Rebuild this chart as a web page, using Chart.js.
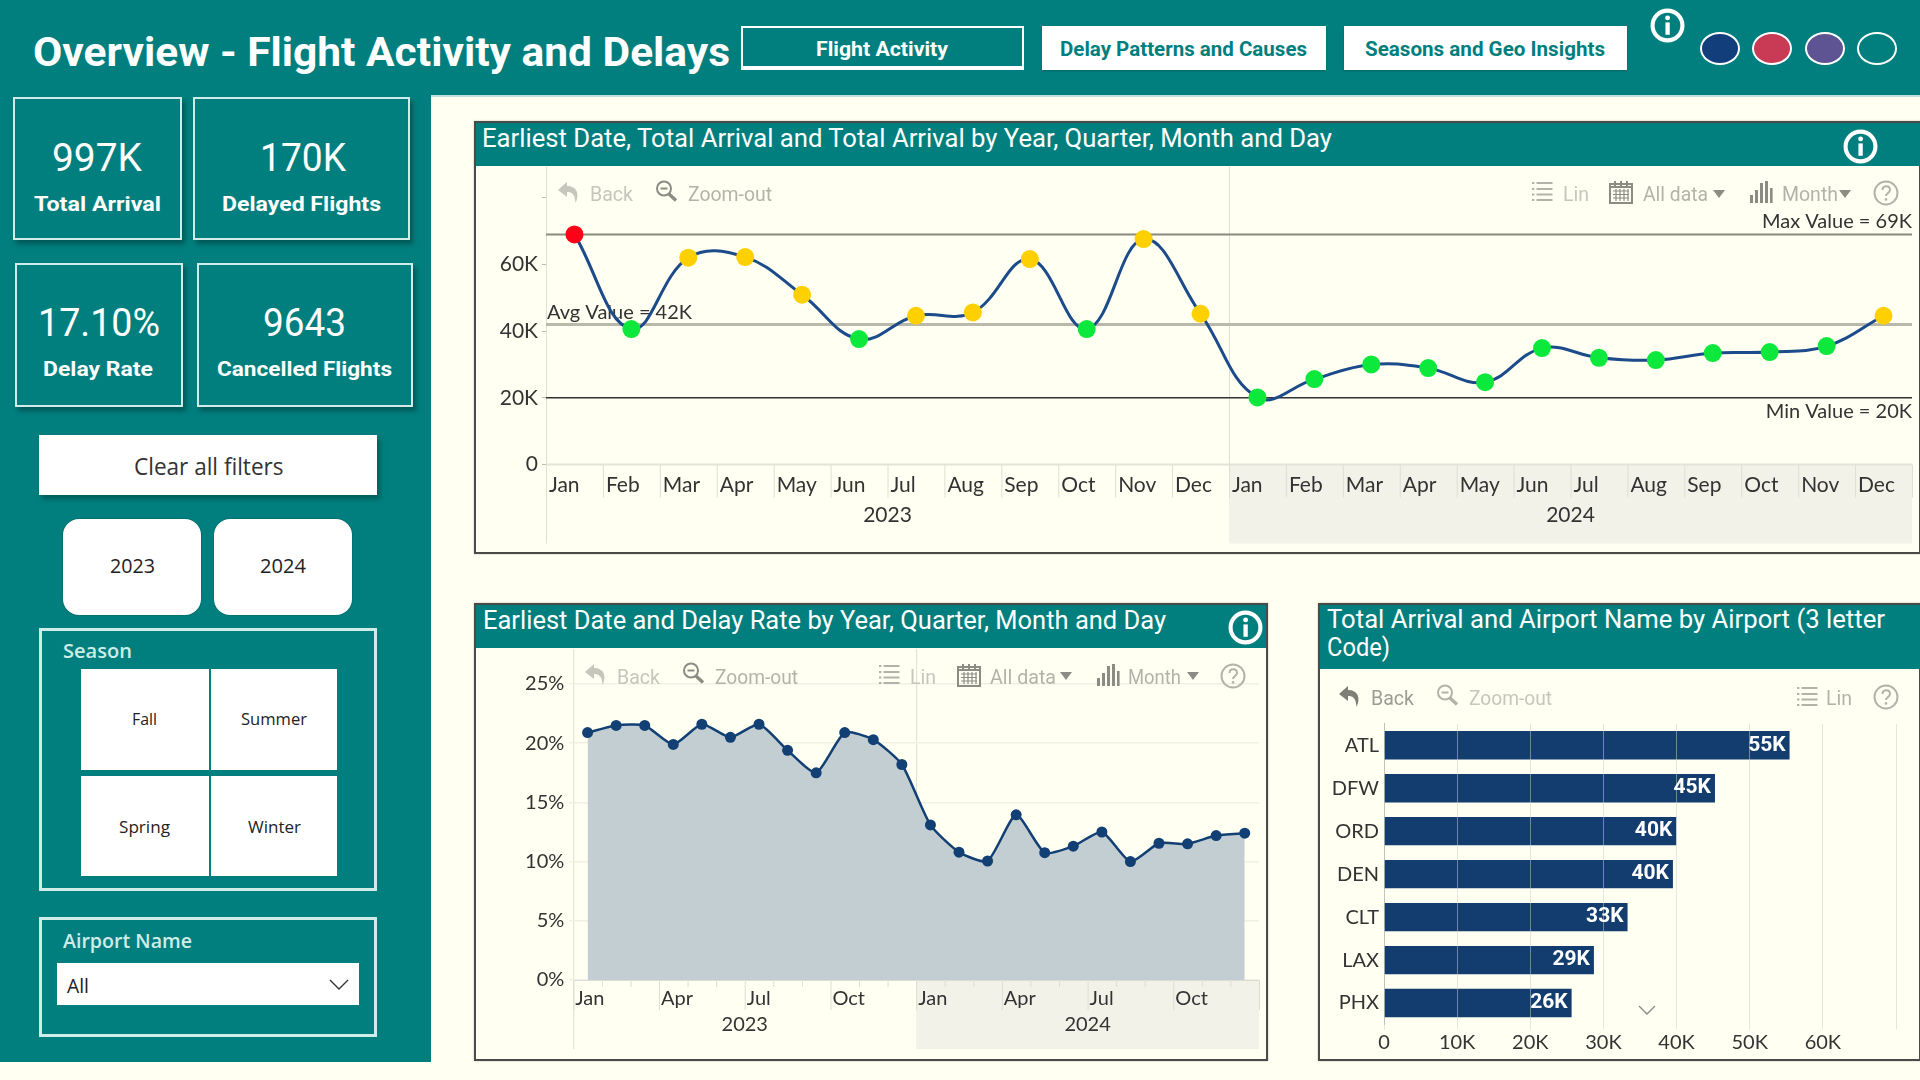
<!DOCTYPE html>
<html><head><meta charset="utf-8">
<style>
html,body{margin:0;padding:0;width:1920px;height:1080px;overflow:hidden;background:#FFFFF2}
.b{position:absolute;box-sizing:border-box}
.t{position:absolute;white-space:nowrap;line-height:1;transform-origin:left center}
canvas{position:absolute;display:block}
svg{position:absolute;overflow:visible}
</style>
<script src="https://cdn.jsdelivr.net/npm/chart.js@4/dist/chart.umd.min.js"></script>
</head><body>
<script>
// ---- data ----
const monthNames = ['Jan','Feb','Mar','Apr','May','Jun','Jul','Aug','Sep','Oct','Nov','Dec'];
const months = monthNames.concat(monthNames);
const years = ['2023','2024'];
const totalArrival = [69.0,40.6,62.0,62.2,50.9,37.6,44.6,45.6,61.6,40.6,67.6,45.2,
                      20.1,25.6,30.0,28.9,24.7,34.9,32.0,31.3,33.4,33.7,35.5,44.6];
const arrivalRefValues = [69,42,20];
const arrivalRefLabels = ['Max Value = 69K','Avg Value = 42K','Min Value = 20K'];
const arrivalTicks = [0,20,40,60,80];
const delayRate = [20.9,21.5,21.5,19.9,21.6,20.5,21.6,19.4,17.5,20.9,20.3,18.2,
                   13.1,10.8,10.05,13.95,10.75,11.3,12.5,10.0,11.55,11.5,12.2,12.4];
const airports = ['ATL','DFW','ORD','DEN','CLT','LAX','PHX'];
const airportArrivals = [55.45,45.25,39.96,39.5,33.3,28.7,25.65];

// ---- page helpers ----
const TEAL='#017F7E', EDGE='#CFECE8', TICKF="'Lato',sans-serif";
function B(x1,y1,x2,y2,css){const d=document.createElement('div');d.className='b';
  d.style.cssText=`left:${x1}px;top:${y1}px;width:${x2-x1}px;height:${y2-y1}px;`+(css||'');document.body.appendChild(d);return d;}
function T(s,x1,x2,cy,size,css){const e=document.createElement('span');e.className='t';e.textContent=s;
  e.style.cssText=`left:${x1}px;top:${cy}px;font-size:${size}px;`+(css||'');document.body.appendChild(e);
  const k=(x2-x1)/e.getBoundingClientRect().width;
  e.style.transform=`translateY(-50%) scaleX(${k})`;return e;}
function S(inner,size){document.body.insertAdjacentHTML('beforeend',inner);}
function info(cx,cy,w,h){S(`<svg style="left:${cx-w/2}px;top:${cy-h/2}px" width="${w}" height="${h}" viewBox="0 0 34 34">
 <circle cx="17" cy="17" r="14.5" fill="none" stroke="#fff" stroke-width="4"/><rect x="15" y="14" width="4.2" height="12" fill="#fff"/><circle cx="17.1" cy="9.6" r="2.4" fill="#fff"/></svg>`);}
function backI(cx,cy,c){S(`<svg style="left:${cx-12}px;top:${cy-12}px" width="24" height="24" viewBox="0 0 24 24"><path d="M10 2 L1 10 L10 17 L10 12 C15 12 18 14 18.5 23 C23 14 20 6 10 6 Z" fill="${c}"/></svg>`);}
function magI(cx,cy,c){S(`<svg style="left:${cx-12}px;top:${cy-12}px" width="24" height="24" viewBox="0 0 24 24" fill="none" stroke="${c}"><circle cx="10" cy="9.5" r="7" stroke-width="2"/><path d="M6.5 9.5h7" stroke-width="2"/><path d="M15 15l7 6.5" stroke-width="3.4"/></svg>`);}
function listI(cx,cy,c){S(`<svg style="left:${cx-11}px;top:${cy-11}px" width="22" height="22" viewBox="0 0 22 22" stroke="${c}" stroke-width="2" fill="none"><path d="M5.5 3h16M5.5 9h16M5.5 14.5h16M5.5 20h16M1 3h2.4M1 9h2.4M1 14.5h2.4M1 20h2.4"/></svg>`);}
function calI(cx,cy,c){S(`<svg style="left:${cx-13}px;top:${cy-13}px" width="26" height="26" viewBox="0 0 26 26" stroke="${c}" fill="none"><rect x="2" y="5" width="22" height="19" stroke-width="2"/><path d="M2 8h22M7 2v6M13 2v6M19 2v6" stroke-width="2"/><path d="M5 12h16M5 15.5h16M5 19h16M8 10v12M12 10v12M16 10v12M20 10v12" stroke-width="1.2"/></svg>`);}
function barsI(cx,cy,c){S(`<svg style="left:${cx-12}px;top:${cy-12}px" width="24" height="24" viewBox="0 0 24 24" fill="${c}"><rect x="1" y="15" width="3" height="8"/><rect x="6" y="10" width="3" height="13"/><rect x="11" y="3" width="3" height="20"/><rect x="16" y="1" width="3" height="22"/><rect x="21" y="8" width="2.6" height="15"/></svg>`);}
function helpI(cx,cy,c){S(`<svg style="left:${cx-13}px;top:${cy-13}px" width="26" height="26" viewBox="0 0 26 26"><ellipse cx="13" cy="13" rx="11.5" ry="11.5" fill="none" stroke="${c}" stroke-width="2"/><path d="M9.5 10c0-5 7.5-5 7.5 0c0 3-4 3-4 6" fill="none" stroke="${c}" stroke-width="2"/><circle cx="13" cy="19.4" r="1.3" fill="${c}"/></svg>`);}
function tri(cx,cy,c){S(`<svg style="left:${cx-6}px;top:${cy-4}px" width="12" height="8" viewBox="0 0 12 8"><path d="M0 0h12L6 8z" fill="${c}"/></svg>`);}
const TF="font-family:'Roboto',sans-serif;";
const OS="font-family:'Open Sans',sans-serif;";

// ---- teal frames ----
B(0,0,1920,97,`background:${TEAL};border-bottom:2px solid #BFE3DC`);
B(0,90,431,1062,`background:${TEAL}`);
T('Overview - Flight Activity and Delays',33,730,53,40,TF+'font-weight:700;color:#fff');

// nav
B(741,26,1024,70,`border:2.5px solid #fff;border-bottom-width:4px`);
T('Flight Activity',816,948,49,21,TF+'font-weight:700;color:#fff');
B(1042,26,1326,70,'background:#fff;box-shadow:0 1px 2px rgba(0,0,0,.2)');
T('Delay Patterns and Causes',1060,1307,49,21,TF+`font-weight:700;color:${TEAL}`);
B(1344,26,1627,70,'background:#fff;box-shadow:0 1px 2px rgba(0,0,0,.2)');
T('Seasons and Geo Insights',1365,1605,49,21,TF+`font-weight:700;color:${TEAL}`);
info(1667,25,35,35);
[[1720,'#123E7C'],[1772,'#C93A55'],[1825,'#5F5493'],[1877,TEAL]].forEach(c=>{
  B(c[0]-20,48.5-16.5,c[0]+20,48.5+16.5,`border-radius:50%;background:${c[1]};border:2.5px solid #fff`);});

// KPI cards
const cardCss=`border:2.5px solid ${EDGE};box-shadow:3px 4px 5px rgba(0,40,40,.45)`;
B(13,97,182,240,cardCss); B(193,97,410,240,cardCss);
B(15,263,183,407,cardCss); B(197,263,413,407,cardCss);
const kv=TF+'font-weight:400;color:#fff', kl=TF+'font-weight:700;color:#fff';
T('997K',52,142,158,38,kv); T('Total Arrival',34,161,204,21,kl);
T('170K',260,346,158,38,kv); T('Delayed Flights',222,381,204,21,kl);
T('17.10%',38,160,323,38,kv); T('Delay Rate',43,153,369,21,kl);
T('9643',263,346,323,38,kv); T('Cancelled Flights',217,392,369,21,kl);

// slicers
B(39,435,377,495,'background:#fff;box-shadow:3px 4px 5px rgba(0,40,40,.4)');
T('Clear all filters',133.5,283,466,24,OS+'color:#333');
B(63,519,201,615,'background:#fff;border-radius:16px;box-shadow:0 0 2px rgba(0,0,0,.35)');
B(214,519,352,615,'background:#fff;border-radius:16px;box-shadow:0 0 2px rgba(0,0,0,.35)');
T(years[0],110,155,566,20,OS+'font-weight:500;color:#222');
T(years[1],260,306,566,20,OS+'font-weight:500;color:#222');
B(39,628,377,891,`border:3px solid ${EDGE}`);
T('Season',63,132,651,20,OS+`font-weight:600;color:${EDGE}`);
B(81,669,209,770,'background:#fff'); B(211,669,337,770,'background:#fff');
B(81,776,209,876,'background:#fff'); B(211,776,337,876,'background:#fff');
T('Fall',132,157,719,16,OS+'color:#222'); T('Summer',241,307,719,16,OS+'color:#222');
T('Spring',119,170,827,16,OS+'color:#222'); T('Winter',248,301,827,16,OS+'color:#222');
B(39,917,377,1037,`border:3px solid ${EDGE}`);
T('Airport Name',63,192,941,20,OS+`font-weight:600;color:${EDGE}`);
B(57,963,359,1005,'background:#fff');
T('All',67,89,986,20,OS+'color:#222');
S(`<svg style="left:329px;top:979px" width="20" height="12" viewBox="0 0 20 12"><path d="M1 1l9 9 9-9" fill="none" stroke="#333" stroke-width="1.4"/></svg>`);

// chart cards
function card(x1,y1,x2,y2,barB){B(x1,y1,x2,y2,'border:2px solid #4a4a4a;background:#FFFFF2;box-shadow:0 0 2px rgba(0,0,0,.25)');
  B(x1+2,y1+2,x2-(x2>=1920?0:2),barB,`background:${TEAL}`);}
card(474,121,1921,554,166);
card(474,603,1268,1061,648);
card(1318,603,1921,1061,669);
T('Earliest Date, Total Arrival and Total Arrival by Year, Quarter, Month and Day',482,1332,138,25,TF+'color:#fff');
info(1860,146,35,35);
T('Earliest Date and Delay Rate by Year, Quarter, Month and Day',483,1166,620,25,TF+'color:#fff');
info(1245,627,35,35);
T('Total Arrival and Airport Name by Airport (3 letter',1327,1885,619,25,TF+'color:#fff');
T('Code)',1327,1390,647,25,TF+'color:#fff');

// canvases (plots)
function cv(x,y,w,h){const c=document.createElement('canvas');c.width=w;c.height=h;c.style.cssText=`left:${x}px;top:${y}px;width:${w}px;height:${h}px`;document.body.appendChild(c);return c;}

const tickC='#333', yearC='#333';
function yearBands(chart,n,shadeH,lineTop,opts){ // draws shade, axis lines, separators
  const {ctx,chartArea:a,scales:{x}}=chart; const bw=x.getPixelForValue(1)-x.getPixelForValue(0);
  const edge=i=>x.getPixelForValue(0)+(i-.5)*bw;
  ctx.save();
  const mid=edge(n);
  ctx.fillStyle='#F2F2E9';ctx.fillRect(mid,a.bottom,a.right-mid,shadeH);
  ctx.strokeStyle='#DEDED2';ctx.lineWidth=1;
  ctx.beginPath();ctx.moveTo(a.left+.5,lineTop);ctx.lineTo(a.left+.5,a.bottom+shadeH);
  ctx.moveTo(mid+.5,lineTop);ctx.lineTo(mid+.5,a.bottom);
  ctx.stroke();
  ctx.strokeStyle=opts.baseC||'#E3E3D8';ctx.lineWidth=opts.baseW||2;
  ctx.beginPath();ctx.moveTo(a.left,a.bottom);ctx.lineTo(a.right,a.bottom);ctx.stroke();
  ctx.lineWidth=1;ctx.strokeStyle='#DEDED2';
  for(let i=0;i<=2*n;i++){const len=opts.len(i);ctx.beginPath();ctx.moveTo(edge(i)+.5,a.bottom);ctx.lineTo(edge(i)+.5,a.bottom+len);ctx.stroke();}
  ctx.restore();
}
function yearLabels(chart,n,cy,font,shift){
  const {ctx,chartArea:a,scales:{x}}=chart; const bw=x.getPixelForValue(1)-x.getPixelForValue(0);
  ctx.save();ctx.fillStyle=yearC;ctx.font=font;ctx.textAlign='center';ctx.textBaseline='middle';
  years.forEach((y,k)=>{const c=x.getPixelForValue(k*n)-bw/2+n*bw/2+shift;ctx.fillText(y,c,a.bottom+cy);});
  ctx.restore();
}
const noPad=h=>s=>{s.height=h;s.paddingLeft=0;s.paddingRight=0;};

// Chart 1 : total arrival
new Chart(cv(476,167,1442,385),{
 type:'line',
 data:{labels:months,datasets:[{data:totalArrival,borderColor:'#1B4B8A',borderWidth:3,tension:.4,
   pointRadius:9,pointBorderWidth:0,clip:false,
   pointBackgroundColor:totalArrival.map(v=>v>=69?'#FF0018':(v<arrivalRefValues[1]?'#0DE83C':'#FFD000'))}]},
 options:{responsive:false,animation:false,
  layout:{autoPadding:false,padding:{left:0,right:6,top:30.7,bottom:0}},
  plugins:{legend:{display:false},tooltip:{enabled:false}},
  scales:{
   x:{offset:true,grid:{display:false,drawTicks:false},border:{display:false},afterFit:noPad(87.5),
      ticks:{autoSkip:false,maxRotation:0,align:'start',labelOffset:-25.5,padding:8,color:tickC,font:{family:TICKF,size:21}}},
   y:{min:0,max:80,afterBuildTicks:s=>{s.ticks=arrivalTicks.map(v=>({value:v}));},afterFit:s=>{s.width=70;},
      grid:{drawOnChartArea:false,tickLength:4,color:'#BDBDB0'},border:{display:false},
      ticks:{padding:4,color:tickC,font:{family:TICKF,size:21},callback:v=>v===0?'0':(v===80?'':v+'K')}}
  }},
 plugins:[{id:'ref1',
  beforeDraw(c){ yearBands(c,12,79,0,{len:()=>33}); },
  beforeDatasetsDraw(c){
   const {ctx,chartArea:a,scales:{y}}=c;
   const sty=[['#8A8A7E',2],['#B9B9AB',3],['#333',1.5]];
   ctx.save();
   arrivalRefValues.forEach((v,i)=>{ctx.strokeStyle=sty[i][0];ctx.lineWidth=sty[i][1];ctx.beginPath();ctx.moveTo(a.left,y.getPixelForValue(v));ctx.lineTo(a.right,y.getPixelForValue(v));ctx.stroke();});
   ctx.fillStyle='#333';ctx.font='20px '+TICKF;ctx.textBaseline='middle';
   ctx.textAlign='right';
   ctx.fillText(arrivalRefLabels[0],a.right,y.getPixelForValue(arrivalRefValues[0])-13);
   ctx.fillText(arrivalRefLabels[2],a.right,y.getPixelForValue(arrivalRefValues[2])+14);
   ctx.textAlign='left';
   ctx.fillText(arrivalRefLabels[1],a.left+1,y.getPixelForValue(arrivalRefValues[1])-12);
   ctx.restore();
   yearLabels(c,12,51,'21px '+TICKF,0);
  }}]
});

// Chart 2 : delay rate
new Chart(cv(476,649,790,410),{
 type:'line',
 data:{labels:months,datasets:[{data:delayRate,borderColor:'#134074',borderWidth:2.5,tension:.2,
   pointRadius:5.5,pointBackgroundColor:'#134074',pointBorderWidth:0,fill:'origin',backgroundColor:'#C2CED2'}]},
 options:{responsive:false,animation:false,
  layout:{autoPadding:false,padding:{right:7,top:35}},
  plugins:{legend:{display:false},tooltip:{enabled:false}},
  scales:{
   x:{offset:true,grid:{display:false,drawTicks:false},border:{display:false},afterFit:noPad(79),
      ticks:{autoSkip:false,maxRotation:0,align:'start',labelOffset:-12.3,padding:7,color:tickC,font:{family:TICKF,size:20},
             callback(v,i){return i%3===0?this.getLabelForValue(v):'';}}},
   y:{min:0,max:25,afterFit:s=>{s.width=97.3;},
      grid:{color:'#F0F0E4',lineWidth:1.5,tickLength:4},border:{display:false},
      ticks:{stepSize:5,padding:5,color:tickC,font:{family:TICKF,size:20},callback:v=>v+'%'}}
  }},
 plugins:[{id:'d2',
  beforeDraw(c){yearBands(c,12,69,0,{baseW:1.5,baseC:'#B8B8B8',len:i=>i%3===0?30:7});},
  beforeDatasetsDraw(c){yearLabels(c,12,45,'20px '+TICKF,0);}}]
});

// Chart 3 : airports
new Chart(cv(1320,671,598,388),{
 type:'bar',
 data:{labels:airports,datasets:[{data:airportArrivals,backgroundColor:'#123D6E',barPercentage:.66,categoryPercentage:1}]},
 options:{indexAxis:'y',responsive:false,animation:false,
  layout:{padding:{right:22,top:52.8}},
  plugins:{legend:{display:false},tooltip:{enabled:false}},
  scales:{
   x:{min:0,max:70,afterFit:noPad(34.5),
      grid:{color:'rgba(205,208,198,.5)',z:1,tickLength:5},border:{display:false},
      ticks:{stepSize:10,padding:1,maxRotation:0,color:tickC,font:{family:TICKF,size:20},callback:v=>v===0?'0':(v===70?'':v+'K')}},
   y:{afterFit:s=>{s.width=64;},grid:{display:false,drawTicks:false},border:{color:'#B8B8AC',width:1},
      ticks:{padding:5,color:tickC,font:{family:TICKF,size:20}}}
  }},
 plugins:[{id:'v3',afterDraw(c){
   const {ctx}=c;ctx.save();ctx.fillStyle='#fff';ctx.font="700 21px 'Roboto',sans-serif";ctx.textAlign='right';ctx.textBaseline='middle';
   c.getDatasetMeta(0).data.forEach((b,i)=>ctx.fillText(Math.round(airportArrivals[i])+'K',b.x-4,b.y));ctx.restore();}}]
});

// toolbars
const gL='#C6C6BC', gM='#B3B3A9', gD='#8C8C84';
const tb=(s,x1,x2,cy,size,c)=>T(s,x1,x2,cy,size,TF+`color:${c}`);
backI(569,192,gL);tb('Back',590,633,194,20,gL);magI(666,191,gD);tb('Zoom-out',688,772,194,20,gM);
listI(1542,191,gM);tb('Lin',1563,1589,194,20,gL);calI(1621,192,gD);tb('All data',1643,1708,194,20,gM);tri(1719,194,gD);
barsI(1761,192,gD);tb('Month',1782,1838,194,20,gM);tri(1845,194,gD);helpI(1886,193,gM);
backI(596,674,gL);tb('Back',617,660,677,20,gL);magI(693,673,gD);tb('Zoom-out',715,798,677,20,gM);
listI(889,674,gM);tb('Lin',910,936,677,20,gL);calI(969,675,gD);tb('All data',990,1056,677,20,gM);tri(1066,676,gD);
barsI(1108,675,gD);tb('Month',1128,1181,677,20,gM);tri(1193,676,gD);helpI(1233,676,gM);
backI(1350,696,'#7F7F78');tb('Back',1371,1414,698,20,'#9C9C94');magI(1447,695,gM);tb('Zoom-out',1469,1552,698,20,gL);
listI(1806.5,696,gM);tb('Lin',1826,1852,698,20,gM);helpI(1886,697,gM);
S(`<svg style="left:1637px;top:1004px" width="20" height="12" viewBox="0 0 20 12"><path d="M2 2l8 8 8-8" fill="none" stroke="#888" stroke-width="1.3"/></svg>`);
</script>
</body></html>
